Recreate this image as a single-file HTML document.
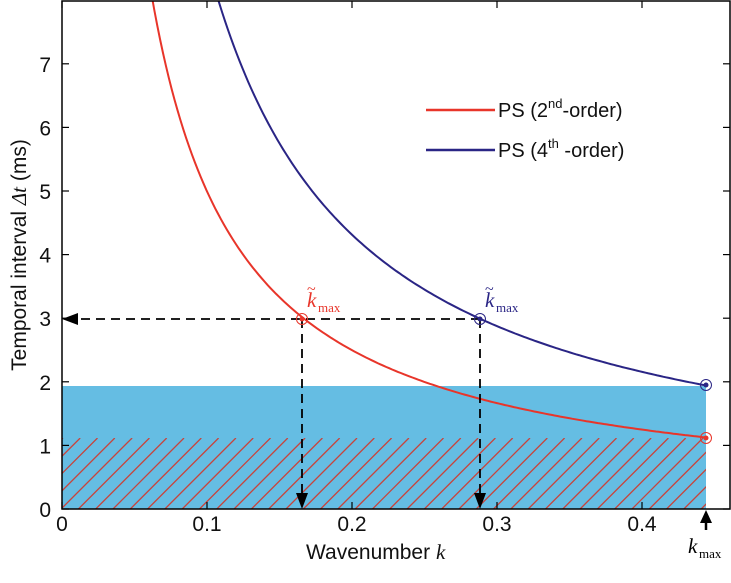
<!DOCTYPE html>
<html><head><meta charset="utf-8"><style>
html,body{margin:0;padding:0;background:#fff;}
svg text{font-family:"Liberation Sans",sans-serif;}
</style></head><body>
<svg id="s" width="731" height="578" viewBox="0 0 731 578" xmlns="http://www.w3.org/2000/svg">
<defs>
<clipPath id="hc"><rect x="62" y="438" width="644" height="71"/></clipPath>
<clipPath id="pc"><rect x="62" y="1" width="668" height="508"/></clipPath>
</defs>
<rect x="62" y="386" width="644" height="123" fill="#65bde3"/>
<g id="hatch" clip-path="url(#hc)" stroke="#c8443c" stroke-width="1.3"></g>
<g clip-path="url(#pc)">
<path id="red" fill="none" stroke="#e8352a" stroke-width="2"/>
<path id="blue" fill="none" stroke="#2a2585" stroke-width="2"/>
</g>
<g stroke="#000" stroke-width="1.8" stroke-dasharray="9,6" fill="none">
<line x1="480" y1="319" x2="74" y2="319"/>
<line x1="302" y1="319" x2="302" y2="498"/>
<line x1="480" y1="319" x2="480" y2="498"/>
</g>
<polygon points="62,319 78,313 78,325" fill="#000"/>
<polygon points="302,509 296,493 308,493" fill="#000"/>
<polygon points="480,509 474,493 486,493" fill="#000"/>
<g fill="none" stroke-width="1">
<circle cx="302" cy="319" r="5.5" stroke="#e8352a"/><circle cx="302" cy="319" r="2.5" fill="#e8352a"/>
<circle cx="480" cy="319" r="5.5" stroke="#2a2585"/><circle cx="480" cy="319" r="2.5" fill="#2a2585"/>
<circle cx="706" cy="438" r="5.5" stroke="#e8352a"/><circle cx="706" cy="438" r="2.5" fill="#e8352a"/>
<circle cx="706" cy="385" r="5.5" stroke="#2a2585"/><circle cx="706" cy="385" r="2.5" fill="#2a2585"/>
</g>
<rect x="62" y="1" width="668" height="508" fill="none" stroke="#000" stroke-width="1.5"/>
<g id="ticks" stroke="#000" stroke-width="1.2"></g>
<g font-size="21" fill="#111" id="tl"></g>
<line x1="706" y1="530" x2="706" y2="520" stroke="#000" stroke-width="2.5"/>
<polygon points="706,510 700,523 712,523" fill="#000"/>
<text x="688" y="553" font-style="italic" font-size="21" style="font-family:'Liberation Serif',serif">k</text>
<text x="699" y="558" font-size="13" style="font-family:'Liberation Serif',serif">max</text>
<text x="307" y="307" font-size="21" fill="#e8352a" font-style="italic" style="font-family:'Liberation Serif',serif">k</text>
<text x="307" y="294" font-size="16" fill="#e8352a" style="font-family:'Liberation Serif',serif">~</text>
<text x="318" y="312" font-size="13" fill="#e8352a" style="font-family:'Liberation Serif',serif">max</text>
<text x="485" y="307" font-size="21" fill="#2a2585" font-style="italic" style="font-family:'Liberation Serif',serif">k</text>
<text x="485" y="294" font-size="16" fill="#2a2585" style="font-family:'Liberation Serif',serif">~</text>
<text x="496" y="312" font-size="13" fill="#2a2585" style="font-family:'Liberation Serif',serif">max</text>
<line x1="426" y1="110" x2="495" y2="110" stroke="#e8352a" stroke-width="2.5"/>
<line x1="426" y1="150" x2="495" y2="150" stroke="#2a2585" stroke-width="2.5"/>
<text x="498" y="117" font-size="20" fill="#111">PS (2<tspan font-size="13" dy="-9">nd</tspan><tspan dy="9">-order)</tspan></text>
<text x="498" y="157" font-size="20" fill="#111">PS (4<tspan font-size="13" dy="-9">th</tspan><tspan dy="9"> -order)</tspan></text>
<text x="306" y="559" font-size="21" fill="#111">Wavenumber <tspan font-style="italic" style="font-family:'Liberation Serif',serif">k</tspan></text>
<text transform="translate(26,255) rotate(-90)" text-anchor="middle" font-size="21" fill="#111">Temporal interval  <tspan font-style="italic" style="font-family:'Liberation Serif',serif">Δt</tspan>  (ms)</text>
</svg>
<script>
var X=function(k){return 62+k*1450},Y=function(t){return 509-t*63.6};
function curve(c){var d='';for(var k=c/8.1;k<=0.4441;k+=0.002){d+=(d?'L':'M')+X(k).toFixed(1)+','+Y(c/k).toFixed(1);}d+='L'+X(0.4441)+','+Y(c/0.4441);return d;}
document.getElementById('red').setAttribute('d',curve(0.4995));
document.getElementById('blue').setAttribute('d',curve(0.8625));
var ns='http://www.w3.org/2000/svg',h=document.getElementById('hatch');
for(var x=-60;x<720;x+=17.3){var l=document.createElementNS(ns,'line');l.setAttribute('x1',x);l.setAttribute('y1',509);l.setAttribute('x2',x+71);l.setAttribute('y2',438);h.appendChild(l);}
var tk=document.getElementById('ticks'),tl=document.getElementById('tl');
function ln(a,b,c,d){var l=document.createElementNS(ns,'line');l.setAttribute('x1',a);l.setAttribute('y1',b);l.setAttribute('x2',c);l.setAttribute('y2',d);tk.appendChild(l);}
function tx(x,y,s,a){var t=document.createElementNS(ns,'text');t.setAttribute('x',x);t.setAttribute('y',y);t.setAttribute('text-anchor',a);t.textContent=s;tl.appendChild(t);}
for(var i=0;i<=4;i++){var x=X(i*0.1);ln(x,509,x,502);ln(x,1,x,8);tx(x,531,i==0?'0':('0.'+i),'middle');}
for(var i=0;i<=7;i++){var y=Y(i);ln(62,y,69,y);ln(730,y,723,y);tx(51,y+8,''+i,'end');}
</script>
</body></html>
